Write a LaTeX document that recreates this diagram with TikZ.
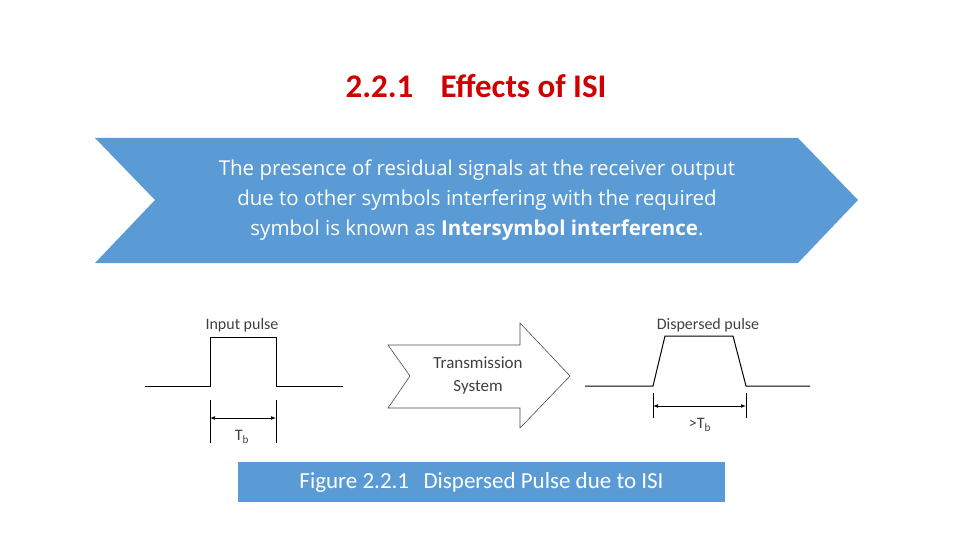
\documentclass[tikz,border=0pt]{standalone}
\usepackage{fontspec}
\setmainfont{Carlito}
\newfontfamily\bodyfont{Open Sans}
\usetikzlibrary{arrows.meta,positioning}
\definecolor{bannerblue}{HTML}{5B9BD5}
\definecolor{titlered}{HTML}{D00000}

\begin{document}
\begin{tikzpicture}[x=1pt,y=-1pt,
				wave/.style={draw=black, line width=1pt},
				marker/.style={draw=black, line width=0.8pt},
				span/.style={draw=black, line width=0.8pt, {Latex[length=5pt]}-{Latex[length=5pt]}},
				label/.style={text=black!75, font=\fontsize{16}{18}\selectfont, inner sep=0pt}
				]
				\useasboundingbox (0,0) rectangle (960,540);
				
				% title
				\node[text=titlered, font=\fontsize{33}{38}\selectfont\bfseries] (title) at (476,86) {2.2.1\hspace{0.6em} Effects of ISI};
				
				% banner
				\fill[bannerblue] (95,138) -- (798,138) -- (858,200) -- (798,263) -- (95,263) -- (155,200) -- cycle;
				\node[text=white, align=center, font=\bodyfont\fontsize{20.5}{30}\selectfont] (banner) at (477,200) {
					The presence of residual signals at the receiver output\\
					due to other symbols interfering with the required\\
					symbol is known as \textbf{Intersymbol interference}.
				};
				
				% input pulse
				\draw[wave] (145,386) -- (210,386) -- (210,337) -- (276,337) -- (276,386) -- (343,386);
				\draw[marker] (210,400) -- (210,443);
				\draw[marker] (276,400) -- (276,443);
				\draw[span] (210,418) -- (276,418);
				\node[label] (inlab) at (242,325) {Input pulse};
				\node[label] (intb) at (242,437) {T\textsubscript{b}};
				
				% transmission system
				\draw[line width=0.6pt, draw=black!70] (388,345) -- (520,345) -- (520,323) -- (570,376) -- (520,428) -- (520,408) -- (388,408) -- (410,376) -- cycle;
				\node[label, align=center, font=\fontsize{17}{23}\selectfont] (tx) at (478,376) {Transmission\\System};
				
				% dispersed pulse
				\draw[wave] (585,386) -- (653,386) -- (665,336) -- (733,336) -- (746,386) -- (810,386);
				\draw[marker] (653,393) -- (653,418);
				\draw[marker] (746,393) -- (746,418);
				\draw[span] (653,406) -- (746,406);
				\node[label] (dislab) at (708,325) {Dispersed pulse};
				\node[label] (distb) at (700,425) {>T\textsubscript{b}};
				
				% caption
				\node[fill=bannerblue, text=white, minimum width=487pt, minimum height=40pt, font=\fontsize{23}{26}\selectfont] (caption) at (481.5,482) {Figure 2.2.1\hspace{0.4em} Dispersed Pulse due to ISI};
			\end{tikzpicture}
\end{document}
